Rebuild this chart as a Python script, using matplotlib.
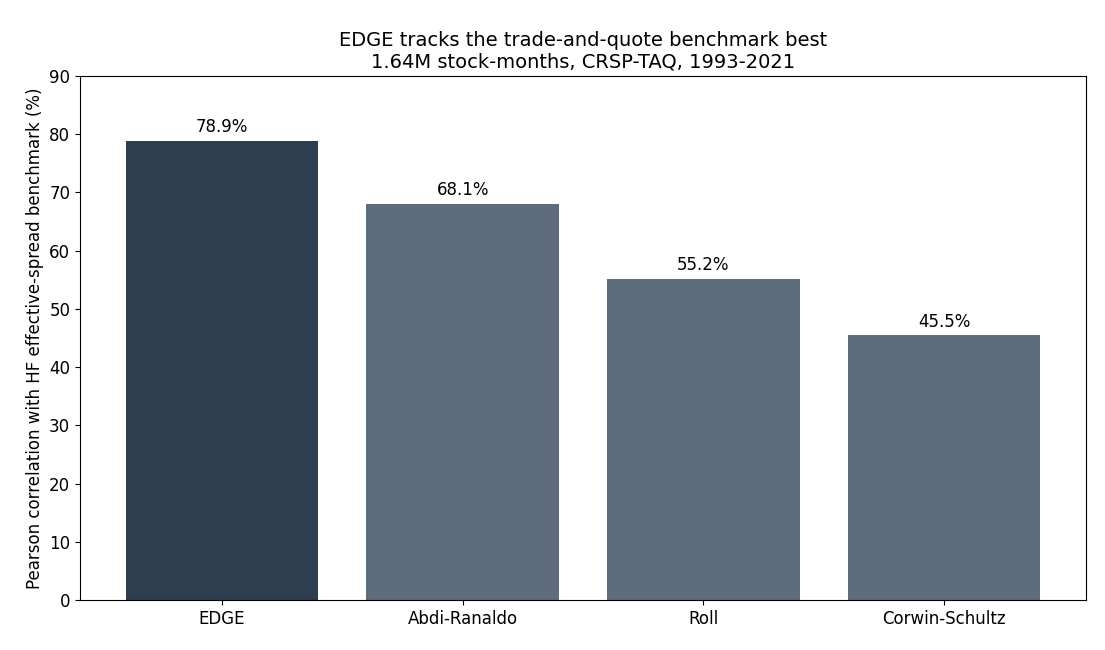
import matplotlib
matplotlib.use("Agg")
import matplotlib.pyplot as plt

methods = ["EDGE", "Abdi-Ranaldo", "Roll", "Corwin-Schultz"]
corr = [78.9, 68.1, 55.2, 45.5]
colors = ["#2c3e50", "#5d6d7d", "#5d6d7d", "#5d6d7d"]

fig = plt.figure(figsize=(11.05, 6.5), dpi=100)
ax = fig.add_axes([80/1105, 50/650, (1086-80)/1105, (600-76)/650])
bars = ax.bar(methods, corr, color=colors, width=0.8)
for b, v in zip(bars, corr):
    ax.annotate(f"{v}%", (b.get_x() + b.get_width()/2, v), xytext=(0, 3),
                textcoords="offset points", ha="center", va="bottom", fontsize=12)
ax.set_ylim(0, 90)
ax.set_yticks(range(0, 91, 10))
ax.tick_params(labelsize=12)
ax.set_ylabel("Pearson correlation with HF effective-spread benchmark (%)", fontsize=12)
ax.set_title("EDGE tracks the trade-and-quote benchmark best\n1.64M stock-months, CRSP-TAQ, 1993-2021", fontsize=14)
fig.savefig("out.png", dpi=100)
